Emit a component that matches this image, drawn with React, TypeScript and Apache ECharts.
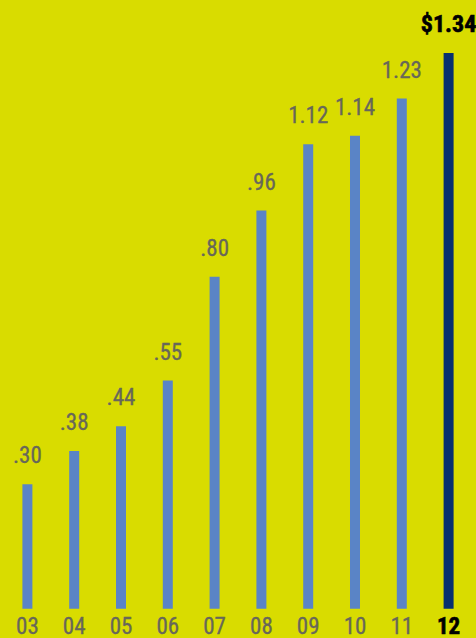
import React, { useEffect, useRef } from "react";
import * as echarts from "echarts";

const years = ["03", "04", "05", "06", "07", "08", "09", "10", "11", "12"];
const values = [0.3, 0.38, 0.44, 0.55, 0.8, 0.96, 1.12, 1.14, 1.23, 1.34];
const labels = [".30", ".38", ".44", ".55", ".80", ".96", "1.12", "1.14", "1.23", "$1.34"];

const FONT = "'Liberation Sans Narrow', 'Roboto Condensed', 'Liberation Sans', sans-serif";
const GRAY = "#67675a";

export default function App() {
  const ref = useRef<HTMLDivElement>(null);
  useEffect(() => {
    document.body.style.margin = "0";
    const chart = echarts.init(ref.current!, null, { renderer: "svg" });
    const last = years.length - 1;
    chart.setOption({
      animation: false,
      backgroundColor: "#d9dc00",
      grid: { left: 4, right: 4, top: 28, bottom: 28 },
      xAxis: {
        type: "category",
        data: years.map((y, i) =>
          i === last
            ? { value: y, textStyle: { color: "#000", fontWeight: "bold", textBorderColor: "#000", textBorderWidth: 0.6 } }
            : y
        ),
        axisLine: { show: false },
        axisTick: { show: false },
        axisLabel: {
          color: GRAY,
          fontSize: 23,
          fontFamily: FONT,
          margin: 6,
          textBorderColor: GRAY,
          textBorderWidth: 0.3,
        },
      },
      yAxis: {
        type: "value",
        min: 0,
        max: 1.4,
        show: false,
        splitLine: { show: false },
      },
      series: [
        {
          type: "bar",
          barWidth: 10,
          data: values.map((v, i) => ({
            value: v,
            itemStyle: { color: i === last ? "#07306f" : "#5a84c6" },
            label: {
              show: true,
              position: "top",
              distance: 17,
              formatter: labels[i],
              color: i === last ? "#000" : GRAY,
              fontWeight: i === last ? "bold" : "normal",
              fontSize: i === last ? 24 : 23,
              fontFamily: FONT,
              textBorderColor: i === last ? "#000" : GRAY,
              textBorderWidth: i === last ? 0.6 : 0.3,
            },
          })),
        },
      ],
    });
    return () => chart.dispose();
  }, []);
  return <div ref={ref} style={{ width: 476, height: 638 }} />;
}
